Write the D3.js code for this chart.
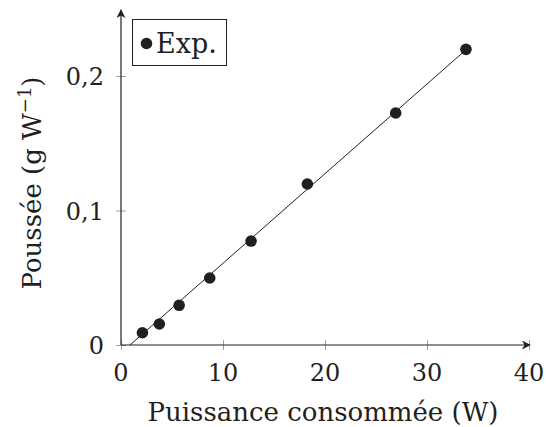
<!DOCTYPE html>
<html>
<head>
<meta charset="utf-8">
<script src="https://cdn.jsdelivr.net/npm/d3@7"></script>
<style>
  body { margin: 0; background: #fff; }
  text { font-family: "DejaVu Serif", serif; fill: #231f20; }
</style>
</head>
<body>
<svg id="chart" width="546" height="427"></svg>
<script>
// measured points (W, g/W)
var power = [2.1, 3.76, 5.7, 8.7, 12.75, 18.27, 26.93, 33.82];
var thrust = [0.0091, 0.0156, 0.0295, 0.0498, 0.0773, 0.1197, 0.1725, 0.2198];
// linear fit endpoints
var fitX = [0.88, 33.9];
var fitY = [0, 0.22];
var xTicks = [0, 10, 20, 30, 40];
var yTicks = [0, 0.1, 0.2];

var svg = d3.select("#chart");

var xScale = d3.scaleLinear().domain([0, 40]).range([121, 529]);
var yScale = d3.scaleLinear().domain([0, 0.2]).range([345, 76]);

// arrow head
svg.append("defs").append("marker")
    .attr("id", "arrow")
    .attr("viewBox", "0 0 10 10")
    .attr("refX", 9).attr("refY", 5)
    .attr("markerWidth", 9).attr("markerHeight", 9)
    .attr("markerUnits", "userSpaceOnUse")
    .attr("orient", "auto")
    .append("path")
    .attr("d", "M0,0 L10,5 L0,10 L3,5 Z")
    .style("fill", "#231f20");

// ticks (grey, crossing the axis)
var xAxis = svg.append("g")
    .attr("transform", `translate(0,${yScale(0) - 5})`)
    .call(d3.axisBottom(xScale).tickValues(xTicks).tickSize(10).tickFormat(""));
var yAxis = svg.append("g")
    .attr("transform", `translate(${xScale(0) + 5},0)`)
    .call(d3.axisLeft(yScale).tickValues(yTicks).tickSize(10).tickFormat(""));

svg.selectAll(".domain").remove();
svg.selectAll(".tick line").style("stroke", "#a0a0a0").style("stroke-width", 1);

// axis lines with arrows
svg.append("line")
    .attr("x1", xScale(0)).attr("y1", yScale(0))
    .attr("x2", 530).attr("y2", yScale(0))
    .style("stroke", "#231f20").style("stroke-width", 1.2)
    .attr("marker-end", "url(#arrow)");
svg.append("line")
    .attr("x1", xScale(0)).attr("y1", yScale(0))
    .attr("x2", xScale(0)).attr("y2", 10)
    .style("stroke", "#231f20").style("stroke-width", 1.2)
    .attr("marker-end", "url(#arrow)");

// tick labels
svg.selectAll(".xlab")
    .data(xTicks)
    .enter().append("text")
    .attr("class", "xlab")
    .attr("x", d => xScale(d))
    .attr("y", 381)
    .attr("text-anchor", "middle")
    .style("font-size", "24px")
    .text(d => d);

svg.selectAll(".ylab")
    .data(yTicks)
    .enter().append("text")
    .attr("class", "ylab")
    .attr("x", 104)
    .attr("y", d => yScale(d) + 9)
    .attr("text-anchor", "end")
    .style("font-size", "24px")
    .text(d => d === 0 ? "0" : String(d).replace(".", ","));

// fit line
svg.append("line")
    .attr("x1", xScale(fitX[0])).attr("y1", yScale(fitY[0]))
    .attr("x2", xScale(fitX[1])).attr("y2", yScale(fitY[1]))
    .style("stroke", "#231f20").style("stroke-width", 1);

// points
svg.selectAll(".dot")
    .data(power.map((p, i) => ({ p: p, t: thrust[i] })))
    .enter().append("circle")
    .attr("class", "dot")
    .attr("cx", d => xScale(d.p))
    .attr("cy", d => yScale(d.t))
    .attr("r", 5.8)
    .style("fill", "#231f20");

// axis titles
svg.append("text")
    .attr("x", 323)
    .attr("y", 421)
    .attr("text-anchor", "middle")
    .style("font-size", "26px")
    .text("Puissance consommée (W)");

var yTitle = svg.append("text")
    .attr("transform", "translate(41,183) rotate(-90)")
    .attr("text-anchor", "middle")
    .style("font-size", "26px");
yTitle.append("tspan").text("Poussée (g W");
yTitle.append("tspan").attr("dy", -10).style("font-size", "18px").text("\u22121");
yTitle.append("tspan").attr("dy", 10).text(")");

// legend
var legend = svg.append("g");
legend.append("rect")
    .attr("x", 132.5).attr("y", 19.5)
    .attr("width", 94).attr("height", 46)
    .style("fill", "#fff")
    .style("stroke", "#231f20").style("stroke-width", 1);
legend.append("circle")
    .attr("cx", 146.5).attr("cy", 43.5).attr("r", 5.8)
    .style("fill", "#231f20");
legend.append("text")
    .attr("x", 156).attr("y", 52.5)
    .style("font-size", "27px")
    .text("Exp.");
</script>
</body>
</html>
